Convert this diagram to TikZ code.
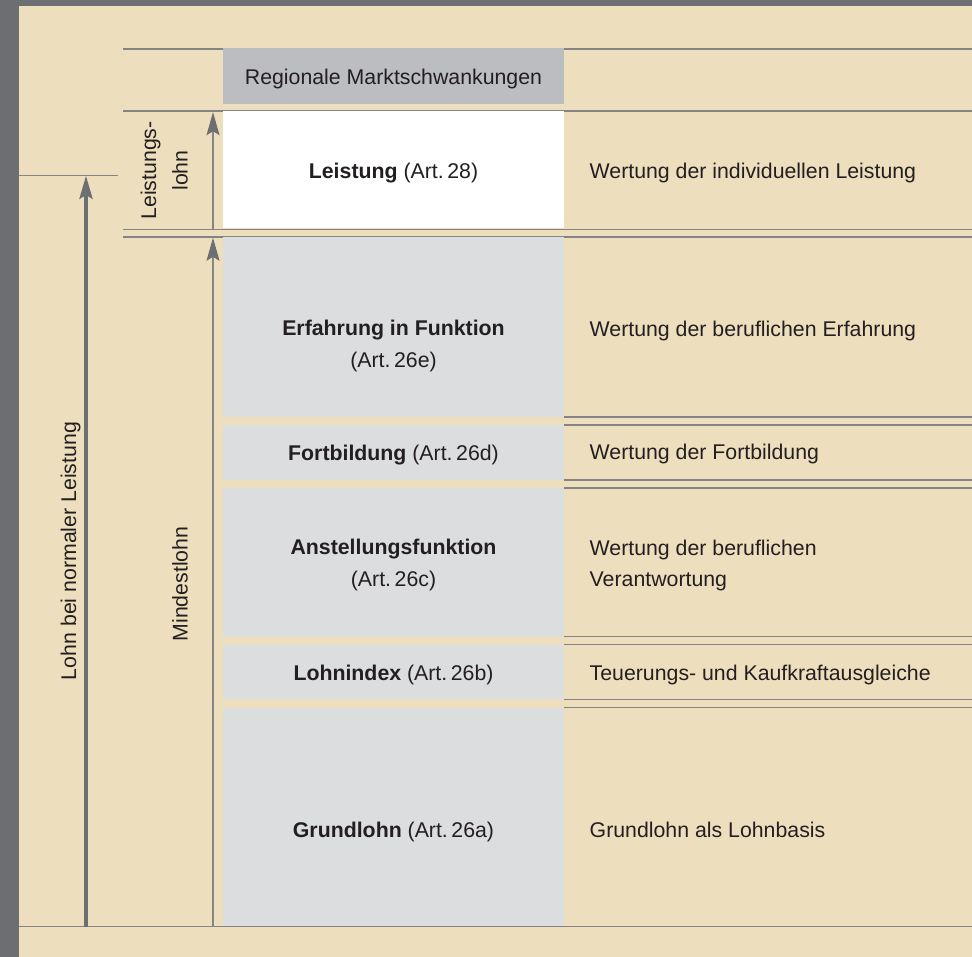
\documentclass[tikz,border=0pt]{standalone}
\usepackage{fontspec}
\setmainfont{Liberation Sans}
\usetikzlibrary{arrows.meta}
\definecolor{framegray}{HTML}{6D6E71}
\definecolor{cream}{HTML}{EDDFBD}
\definecolor{regbox}{HTML}{BCBDC0}
\definecolor{lightbox}{HTML}{DCDDDF}
\definecolor{textcol}{HTML}{231F20}
\definecolor{linegray}{HTML}{848484}
\begin{document}
\begin{tikzpicture}[x=1pt,y=-1pt,
  hline/.style={draw=linegray, line width=1.3pt},
  box/.style={draw=none, inner sep=0pt, minimum width=341pt},
  txt/.style={inner sep=0pt, anchor=base, text=textcol, font=\fontsize{21.3}{25}\selectfont},
  rtxt/.style={txt, anchor=base west},
  vtxt/.style={txt, rotate=90},
  bigarrow/.style={draw=framegray, line width=4pt, -{Stealth[length=23pt,width=13pt,inset=4pt]}},
  smallarrow/.style={draw=linegray, line width=1.2pt, -{Stealth[length=23pt,width=13pt,inset=4pt,color=framegray]}}
]
\useasboundingbox (0,0) rectangle (972,957);
% background and frame
\fill[framegray] (0,0) rectangle (972,957);
\fill[cream] (19,6) rectangle (972,957);

% coordinates for lines
\coordinate (l49a) at (123,49);   \coordinate (l49b) at (223,49);
\coordinate (r49a) at (564,49);   \coordinate (r49b) at (972,49);
\coordinate (l111a) at (123,111); \coordinate (l111b) at (972,111);
\coordinate (l229a) at (123,229.2); \coordinate (l229b) at (972,229.2);
\coordinate (l237a) at (123,237); \coordinate (l237b) at (972,237);
\coordinate (l175a) at (19,175.5); \coordinate (l175b) at (118,175.5);
\coordinate (bota) at (19,926.5); \coordinate (botb) at (972,926.5);

\draw[hline] (l49a) -- (l49b);
\draw[hline] (r49a) -- (r49b);
\draw[hline] (l111a) -- (l111b);
\draw[hline] (l237a) -- (l237b);
\draw[hline] (l175a) -- (l175b);

% right-side separator lines
\foreach \yy/\nm in {417/a,425/b,480/c,488/d,636.5/e,644.5/f,699.3/g,707.5/h}{
  \coordinate (rs\nm1) at (564,\yy);
  \coordinate (rs\nm2) at (972,\yy);
  \draw[hline] (rs\nm1) -- (rs\nm2);
}

% boxes
\node[box, fill=regbox, minimum height=56pt] (reg) at (393.5,76) {};
\node[box, fill=white, minimum height=117.5pt] (leist) at (393.5,169.75) {};
\node[box, fill=lightbox, minimum height=180pt] (erf) at (393.5,327) {};
\node[box, fill=lightbox, minimum height=55pt] (fort) at (393.5,452.5) {};
\node[box, fill=lightbox, minimum height=148.5pt] (anst) at (393.5,562.25) {};
\node[box, fill=lightbox, minimum height=54.8pt] (lohni) at (393.5,671.9) {};
\node[box, fill=lightbox, minimum height=218.5pt] (grund) at (393.5,816.75) {};

\draw[hline] (l229a) -- (l229b);
\draw[hline] (bota) -- (botb);

% arrows
\coordinate (bigstart) at (86,926.5);
\coordinate (bigend) at (86,175.8);
\draw[bigarrow] (bigstart) -- (bigend);
\coordinate (s1start) at (213,229.2);
\coordinate (s1end) at (213,112.2);
\draw[smallarrow] (s1start) -- (s1end);
\coordinate (s2start) at (213,926.5);
\coordinate (s2end) at (213,237.8);
\draw[smallarrow] (s2start) -- (s2end);

% middle texts
\node[txt] (treg) at (393.5,85) {Regionale Marktschwankungen};
\node[txt] (tleist) at (393.5,179) {\textbf{Leistung} (Art.\,28)};
\node[txt] (terf1) at (393.5,336) {\textbf{Erfahrung in Funktion}};
\node[txt] (terf2) at (393.5,367.3) {(Art.\,26e)};
\node[txt] (tfort) at (393.5,460.7) {\textbf{Fortbildung} (Art.\,26d)};
\node[txt] (tanst1) at (393.5,554) {\textbf{Anstellungsfunktion}};
\node[txt] (tanst2) at (393.5,586.7) {(Art.\,26c)};
\node[txt] (tlohni) at (393.5,680.7) {\textbf{Lohnindex} (Art.\,26b)};
\node[txt] (tgrund) at (393.5,837.3) {\textbf{Grundlohn} (Art.\,26a)};

% right texts
\node[rtxt] (rleist) at (589.5,179) {Wertung der individuellen Leistung};
\node[rtxt] (rerf) at (589.5,336.5) {Wertung der beruflichen Erfahrung};
\node[rtxt] (rfort) at (589.5,459.5) {Wertung der Fortbildung};
\node[rtxt] (ranst1) at (589.5,555) {Wertung der beruflichen};
\node[rtxt] (ranst2) at (589.5,586.7) {Verantwortung};
\node[rtxt] (rlohni) at (589.5,680.3) {Teuerungs- und Kaufkraftausgleiche};
\node[rtxt] (rgrund) at (589.5,837) {Grundlohn als Lohnbasis};

% vertical texts
\node[vtxt] (vlohn) at (76,551) {Lohn bei normaler Leistung};
\node[vtxt] (vleist1) at (156,170.5) {Leistungs-};
\node[vtxt] (vleist2) at (187.5,170.5) {lohn};
\node[vtxt] (vmind) at (187.5,584) {Mindestlohn};
\end{tikzpicture}
\end{document}
